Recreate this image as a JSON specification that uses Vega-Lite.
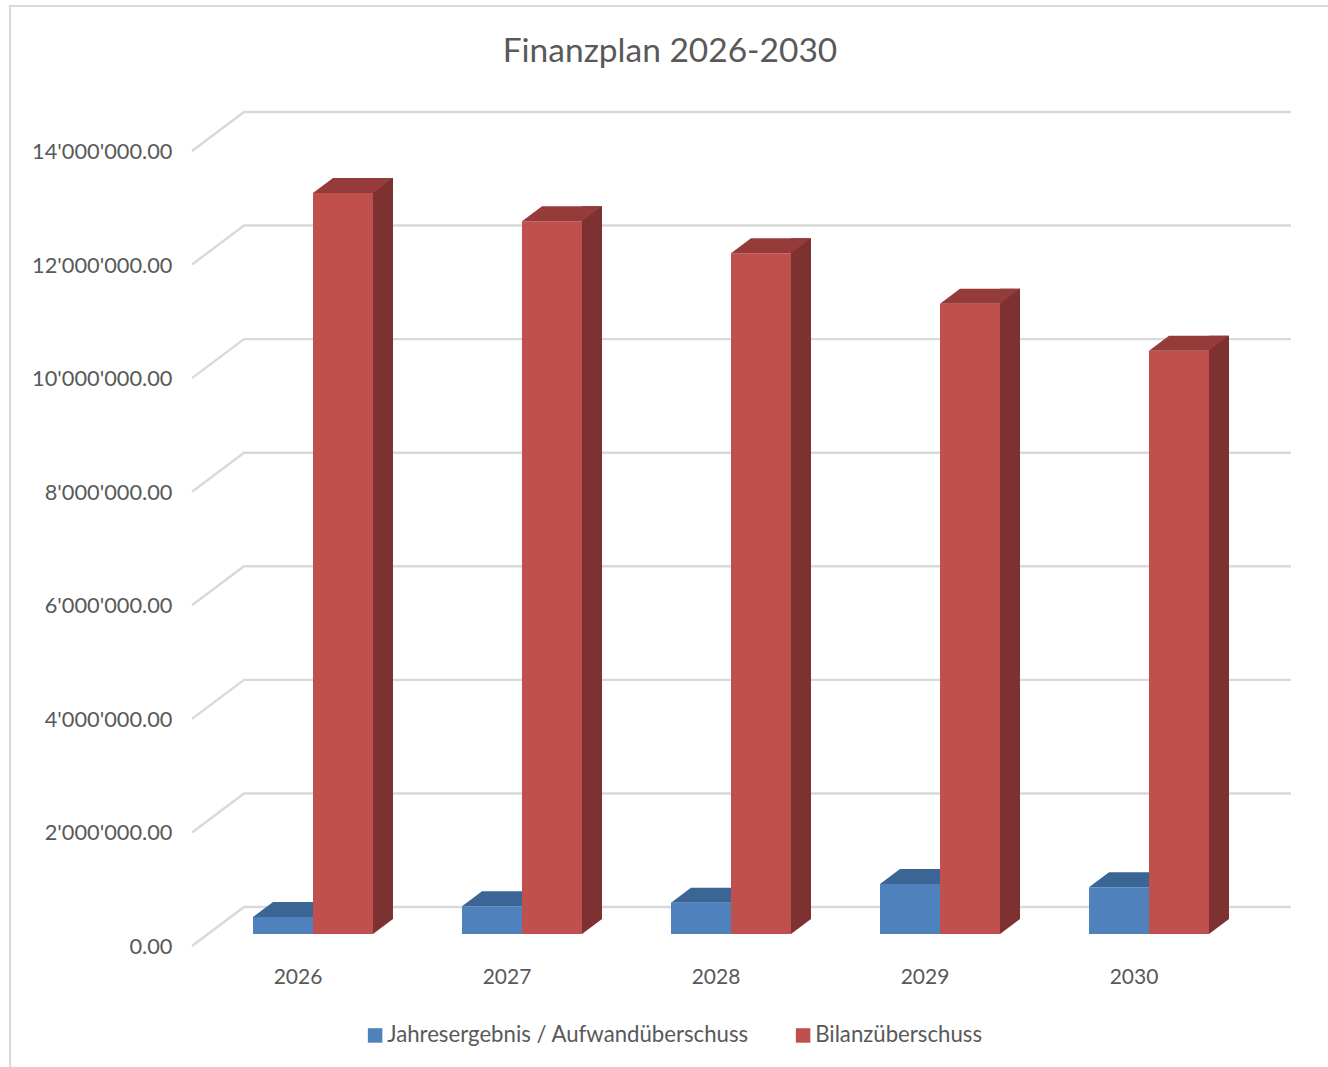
{
  "$schema": "https://vega.github.io/schema/vega-lite/v6.json",
  "autosize": {"type": "none"},
  "padding": {"left": 208.5, "top": 151, "right": 74.5, "bottom": 121},
  "width": 1045,
  "height": 795,
  "background": "white",
  "config": {"view": {"stroke": null}, "font": "Lato"},
  "title": {"text": "Finanzplan 2026-2030", "font": "Lato", "fontSize": 33.5, "fontWeight": "normal", "color": "#595959", "anchor": "middle", "frame": "group", "offset": -67, "dx": -61},
  "datasets": {
    "bars": [
      {"year": "2026", "series": "Jahresergebnis / Aufwandüberschuss", "value": 300000},
      {"year": "2027", "series": "Jahresergebnis / Aufwandüberschuss", "value": 490000},
      {"year": "2028", "series": "Jahresergebnis / Aufwandüberschuss", "value": 550000},
      {"year": "2029", "series": "Jahresergebnis / Aufwandüberschuss", "value": 880000},
      {"year": "2030", "series": "Jahresergebnis / Aufwandüberschuss", "value": 825000},
      {"year": "2026", "series": "Bilanzüberschuss", "value": 13050000},
      {"year": "2027", "series": "Bilanzüberschuss", "value": 12550000},
      {"year": "2028", "series": "Bilanzüberschuss", "value": 11990000},
      {"year": "2029", "series": "Bilanzüberschuss", "value": 11100000},
      {"year": "2030", "series": "Bilanzüberschuss", "value": 10270000}
    ],
    "ticks": [
      {"year": "2026", "tick": 0},
      {"year": "2026", "tick": 2000000},
      {"year": "2026", "tick": 4000000},
      {"year": "2026", "tick": 6000000},
      {"year": "2026", "tick": 8000000},
      {"year": "2026", "tick": 10000000},
      {"year": "2026", "tick": 12000000},
      {"year": "2026", "tick": 14000000}
    ]
  },
  "encoding": {
    "x": {"field": "year", "type": "nominal", "scale": {"domain": ["2026", "2027", "2028", "2029", "2030"], "paddingInner": 0.4258, "paddingOuter": 0.2129},
      "axis": {"title": null, "domain": false, "ticks": false, "labelAngle": 0, "labelFont": "Lato", "labelFontSize": 21, "labelColor": "#595959", "labelPadding": 20, "labelOffset": -15}},
    "xOffset": {"field": "series", "type": "nominal", "scale": {"domain": ["Jahresergebnis / Aufwandüberschuss", "Bilanzüberschuss"], "paddingInner": 0, "paddingOuter": 0}},
    "y": {"field": "value", "type": "quantitative", "scale": {"domain": [0, 14000000], "nice": false, "zero": true},
      "axis": {"title": null, "domain": false, "ticks": false, "grid": false, "values": [0, 2000000, 4000000, 6000000, 8000000, 10000000, 12000000, 14000000], "labelExpr": "replace(format(datum.value, ',.2f'), regexp(',', 'g'), \"'\")", "labelFont": "Lato", "labelFontSize": 21.8, "labelColor": "#595959", "labelPadding": 36.5, "labelOffset": 0.5}}
  },
  "layer": [
    {
      "data": {"name": "ticks"},
      "transform": [{"filter": "datum.tick === 0"}],
      "mark": {"type": "point", "shape": "M-243,121 L-243,-940 L1075,-940", "size": 4, "filled": false, "stroke": "#d9d9d9", "strokeWidth": 2, "opacity": 1},
      "encoding": {"x": {"field": "year", "type": "nominal"}, "xOffset": {"value": 0}, "y": {"field": "tick", "type": "quantitative"}}
    },
    {
      "data": {"name": "ticks"},
      "mark": {"type": "point", "shape": "M-61,0 L-9,-39 L1038,-39", "size": 4, "filled": false, "stroke": "#d9d9d9", "strokeWidth": 2.4, "opacity": 1},
      "encoding": {"x": {"field": "year", "type": "nominal"}, "xOffset": {"value": 0}, "y": {"field": "tick", "type": "quantitative"}}
    },
    {
      "data": {"name": "bars"},
      "transform": [{"filter": "datum.series !== 'Bilanzüberschuss'"}],
      "mark": {"type": "point", "shape": "M-30,-12 L30,-12 L50,-27 L-10,-27 Z", "size": 4, "filled": true, "fill": "#3b6595", "opacity": 1}
    },
    {
      "data": {"name": "bars"},
      "mark": {"type": "bar", "yOffset": -12, "y2Offset": -12},
      "encoding": {
        "color": {"field": "series", "type": "nominal", "scale": {"domain": ["Jahresergebnis / Aufwandüberschuss", "Bilanzüberschuss"], "range": ["#4f81bd", "#c0504d"]},
          "legend": {"title": null, "orient": "none", "legendX": 155.5, "legendY": 873, "direction": "horizontal", "symbolType": "square", "symbolSize": 210, "labelFont": "Lato", "labelFontSize": 22.2, "labelColor": "#595959", "labelOffset": 1, "labelLimit": 600, "columnPadding": 43}}
      }
    },
    {
      "data": {"name": "bars"},
      "transform": [{"filter": "datum.series === 'Bilanzüberschuss'"}],
      "mark": {"type": "bar", "width": 20, "yOffset": -27, "y2Offset": -27, "fill": "#7d3130"},
      "encoding": {"x": {"field": "year", "type": "nominal"}, "xOffset": {"value": 130}}
    },
    {
      "data": {"name": "bars"},
      "transform": [{"filter": "datum.series === 'Bilanzüberschuss'"}],
      "mark": {"type": "point", "shape": "M-30,-12 L30,-12 L50,-27 L-10,-27 Z", "size": 4, "filled": true, "fill": "#953b39", "opacity": 1}
    },
    {
      "data": {"name": "bars"},
      "transform": [{"filter": "datum.series === 'Bilanzüberschuss'"}],
      "mark": {"type": "point", "shape": "M30,-12 L50,-27 L30,-27 Z", "size": 4, "filled": true, "fill": "#7d3130", "opacity": 1},
      "encoding": {"y": {"datum": 0, "type": "quantitative"}}
    }
  ]
}
